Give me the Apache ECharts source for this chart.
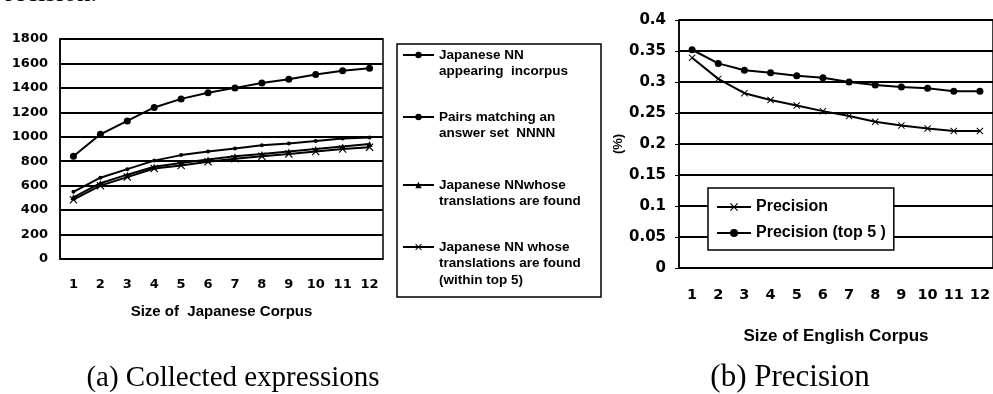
<!DOCTYPE html>
<html>
<head>
<meta charset="utf-8">
<script src="https://cdn.jsdelivr.net/npm/echarts@6/dist/echarts.min.js"></script>
<style>
html,body{margin:0;padding:0;background:#fff;}
#c{width:993px;height:394px;}
</style>
</head>
<body>
<div id="c"></div>
<script>
// ---- data ----
const categories = ['1','2','3','4','5','6','7','8','9','10','11','12'];
const japaneseNN        = [840, 1020, 1130, 1240, 1310, 1360, 1400, 1440, 1470, 1510, 1540, 1560];
const pairsMatching     = [550, 665, 735, 805, 850, 880, 905, 930, 945, 965, 985, 995];
const translationsFound = [505, 620, 690, 755, 785, 815, 840, 860, 880, 900, 920, 940];
const translationsTop5  = [485, 600, 670, 740, 765, 795, 820, 840, 860, 880, 900, 915];
const precision     = [0.339, 0.305, 0.282, 0.271, 0.262, 0.253, 0.245, 0.236, 0.230, 0.225, 0.221, 0.221];
const precisionTop5 = [0.352, 0.330, 0.319, 0.315, 0.310, 0.307, 0.300, 0.295, 0.292, 0.290, 0.285, 0.285];
const leftYTicks  = [0, 200, 400, 600, 800, 1000, 1200, 1400, 1600, 1800];
const rightYTicks = [0, 0.05, 0.1, 0.15, 0.2, 0.25, 0.3, 0.35, 0.4];
const leftSeriesNames = ['Japanese NN appearing incorpus', 'Pairs matching an answer set NNNN',
  'Japanese NNwhose translations are found', 'Japanese NN whose translations are found (within top 5)'];
const leftLegendLines = [
  ['Japanese NN', 'appearing  incorpus'],
  ['Pairs matching an', 'answer set  NNNN'],
  ['Japanese NNwhose', 'translations are found'],
  ['Japanese NN whose', 'translations are found', '(within top 5)']
];
const rightSeriesNames = ['Precision', 'Precision (top 5 )'];
const leftXName = 'Size of  Japanese Corpus';
const rightXName = 'Size of English Corpus';
const rightYName = '(%)';
const captions = ['(a) Collected expressions', '(b) Precision'];

// ---- chart ----
const FONT = 'Liberation Sans, Arial, sans-serif';
const TICKFONT = 'DejaVu Sans, sans-serif';
const SERIF = '"Liberation Serif", "Times New Roman", serif';
const XPATH = 'path://M1,0L5,4L9,0L10,1L6,5L10,9L9,10L5,6L1,10L0,9L4,5L0,1Z';
const chart = echarts.init(document.getElementById('c'), null, {renderer: 'canvas'});

const lineH = 16.5;
const legendFirstLineY = [55, 117, 185, 247];
const leftLegends = leftSeriesNames.map((name, i) => {
  const lines = leftLegendLines[i];
  const n = lines.length;
  const T = (2 * n - 1) * lineH;
  return {
    data: [{name: name}],
    orient: 'vertical',
    left: 402,
    top: legendFirstLineY[i] - T / 2,
    padding: 0,
    itemWidth: 31,
    itemHeight: 8,
    selectedMode: false,
    formatter: () => '\n'.repeat(n - 1) + lines.join('\n'),
    textStyle: {fontFamily: FONT, fontSize: 13.5, fontWeight: 'bold', lineHeight: lineH, color: '#000'}
  };
});

const tickL = {fontFamily: TICKFONT, fontSize: 13, fontWeight: 'bold', color: '#000'};
const tickR = {fontFamily: TICKFONT, fontSize: 15, fontWeight: 'bold', color: '#000'};
const gridLine = {show: true, lineStyle: {color: '#000', width: 2}};

const option = {
  backgroundColor: '#fff',
  animation: false,
  grid: [
    {left: 60, top: 39, width: 323, height: 220, show: true, borderColor: '#000', borderWidth: 1.5, backgroundColor: 'transparent'},
    {left: 679, top: 20, width: 317, height: 248, show: true, borderColor: '#000', borderWidth: 1.5, backgroundColor: 'transparent'}
  ],
  legend: leftLegends.concat([{
    data: rightSeriesNames,
    orient: 'vertical',
    left: 708,
    top: 188,
    padding: [10.5, 8, 8.5, 8],
    itemGap: 9,
    itemWidth: 34,
    itemHeight: 10,
    selectedMode: false,
    backgroundColor: '#fff',
    borderColor: '#000',
    borderWidth: 1.5,
    textStyle: {fontFamily: FONT, fontSize: 16, fontWeight: 'bold', lineHeight: 17, color: '#000'}
  }]),
  xAxis: [
    {type: 'category', gridIndex: 0, data: categories, boundaryGap: true,
     axisLine: {lineStyle: {color: '#000', width: 1.5}},
     axisTick: {inside: true, length: 4, lineStyle: {color: '#000'}},
     axisLabel: Object.assign({margin: 19, interval: 0}, tickL),
     name: leftXName, nameLocation: 'middle', nameGap: 45,
     nameTextStyle: {fontFamily: FONT, fontSize: 15, fontWeight: 'bold', color: '#000'}},
    {type: 'category', gridIndex: 1, data: categories, boundaryGap: true,
     axisLine: {lineStyle: {color: '#000', width: 1.5}},
     axisTick: {inside: true, length: 4, lineStyle: {color: '#000'}},
     axisLabel: Object.assign({margin: 20, interval: 0}, tickR, {fontSize: 14.5}),
     name: rightXName, nameLocation: 'middle', nameGap: 60,
     nameTextStyle: {fontFamily: FONT, fontSize: 17, fontWeight: 'bold', color: '#000'}}
  ],
  yAxis: [
    {type: 'value', gridIndex: 0, min: leftYTicks[0], max: leftYTicks[leftYTicks.length - 1],
     interval: leftYTicks[1] - leftYTicks[0],
     axisLine: {show: true, lineStyle: {color: '#000', width: 1.5}},
     axisTick: {show: false},
     axisLabel: Object.assign({margin: 12, formatter: v => String(v)}, tickL),
     splitLine: gridLine},
    {type: 'value', gridIndex: 1, min: rightYTicks[0], max: rightYTicks[rightYTicks.length - 1],
     interval: rightYTicks[1] - rightYTicks[0],
     axisLine: {show: true, lineStyle: {color: '#000', width: 1.5}},
     axisTick: {show: true, length: 4, lineStyle: {color: '#000'}},
     axisLabel: Object.assign({margin: 13, formatter: v => String(+v.toFixed(2))}, tickR),
     splitLine: gridLine,
     name: rightYName, nameLocation: 'middle', nameGap: 51, nameRotate: 90,
     nameTextStyle: {fontFamily: FONT, fontSize: 13, fontWeight: 'bold', color: '#000'}}
  ],
  series: [
    {name: leftSeriesNames[0], type: 'line', xAxisIndex: 0, yAxisIndex: 0, data: japaneseNN,
     symbol: 'circle', symbolSize: 7, itemStyle: {color: '#000'}, lineStyle: {color: '#000', width: 2}},
    {name: leftSeriesNames[1], type: 'line', xAxisIndex: 0, yAxisIndex: 0, data: pairsMatching,
     symbol: 'circle', symbolSize: 4, itemStyle: {color: '#000'}, lineStyle: {color: '#000', width: 2}},
    {name: leftSeriesNames[2], type: 'line', xAxisIndex: 0, yAxisIndex: 0, data: translationsFound,
     symbol: 'triangle', symbolSize: 6, itemStyle: {color: '#000'}, lineStyle: {color: '#000', width: 2}},
    {name: leftSeriesNames[3], type: 'line', xAxisIndex: 0, yAxisIndex: 0, data: translationsTop5,
     symbol: XPATH, symbolSize: 8, itemStyle: {color: '#000'}, lineStyle: {color: '#000', width: 2}},
    {name: rightSeriesNames[0], type: 'line', xAxisIndex: 1, yAxisIndex: 1, data: precision,
     symbol: XPATH, symbolSize: 7, itemStyle: {color: '#000'}, lineStyle: {color: '#000', width: 2}},
    {name: rightSeriesNames[1], type: 'line', xAxisIndex: 1, yAxisIndex: 1, data: precisionTop5,
     symbol: 'circle', symbolSize: 7, itemStyle: {color: '#000'}, lineStyle: {color: '#000', width: 2}}
  ],
  graphic: [
    {type: 'rect', shape: {x: 397, y: 44, width: 204, height: 253}, z: -1,
     style: {fill: '#fff', stroke: '#000', lineWidth: 1.5}},
    {type: 'text', x: 233, y: 378, style: {text: captions[0], font: '29px ' + SERIF, fill: '#000', align: 'center', verticalAlign: 'middle'}},
    {type: 'text', x: 790, y: 378, style: {text: captions[1], font: '31px ' + SERIF, fill: '#000', align: 'center', verticalAlign: 'middle'}},
    {type: 'text', x: -10, y: 7, style: {text: 'Precision.', font: '27px ' + SERIF, fill: '#000', align: 'left', verticalAlign: 'bottom'}}
  ]
};
chart.setOption(option);
</script>
</body>
</html>
